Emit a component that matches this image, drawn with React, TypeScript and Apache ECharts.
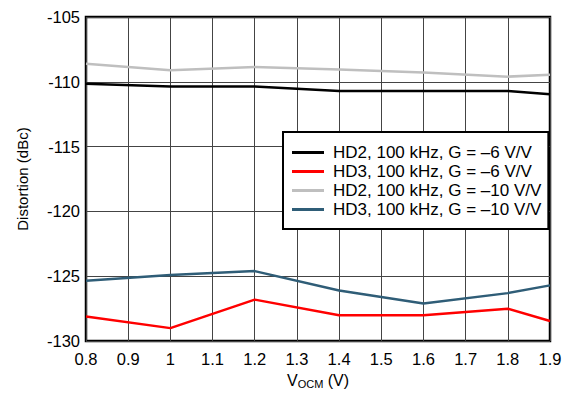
import React, { useEffect, useRef } from "react";
import * as echarts from "echarts";

const xValues = [0.8, 1.0, 1.2, 1.4, 1.6, 1.8, 1.9];
const hd2G6 = [-110.15, -110.37, -110.37, -110.7, -110.7, -110.7, -110.95];
const hd3G6 = [-128.1, -129.0, -126.8, -128.0, -128.0, -127.5, -128.45];
const hd2G10 = [-108.6, -109.1, -108.85, -109.05, -109.28, -109.6, -109.45];
const hd3G10 = [-125.35, -124.9, -124.6, -126.1, -127.1, -126.3, -125.7];

const seriesNames = [
  "HD2, 100 kHz, G = \u20136 V/V",
  "HD3, 100 kHz, G = \u20136 V/V",
  "HD2, 100 kHz, G = \u201310 V/V",
  "HD3, 100 kHz, G = \u201310 V/V",
];
const seriesColors = ["#000000", "#ff0000", "#bfbfbf", "#2f5d77"];
const seriesData = [hd2G6, hd3G6, hd2G10, hd3G10];

const FONT = "Liberation Sans";

export default function App() {
  const ref = useRef<HTMLDivElement>(null);
  useEffect(() => {
    if (!ref.current) return;
    const chart = echarts.init(ref.current, undefined, { renderer: "svg" });
    chart.setOption({
      animation: false,
      backgroundColor: "#ffffff",
      textStyle: { fontFamily: FONT },
      grid: {
        left: 86,
        top: 17,
        right: 19,
        bottom: 48,
        show: true,
        borderColor: "#000",
        borderWidth: 2.5,
        backgroundColor: "transparent",
      },
      legend: {
        left: 283,
        top: 132,
        orient: "vertical",
        icon: "rect",
        itemWidth: 32,
        itemHeight: 3,
        itemGap: 2,
        padding: [12, 7, 11, 9],
        borderColor: "#000",
        borderWidth: 2,
        backgroundColor: "#fff",
        textStyle: {
          fontFamily: FONT,
          fontSize: 17,
          lineHeight: 17,
          color: "#000",
          padding: [0, 0, 0, 4],
        },
        data: seriesNames,
      },
      xAxis: {
        type: "value",
        min: 0.8,
        max: 1.9,
        interval: 0.1,
        name: "{a|V}{b|OCM}{a| (V)}",
        nameLocation: "middle",
        nameGap: 28,
        nameTextStyle: {
          rich: {
            a: { fontFamily: FONT, fontSize: 16, color: "#000" },
            b: { fontFamily: FONT, fontSize: 11, color: "#000", padding: [7, 0, 0, 0] },
          },
        },
        axisLine: { show: false },
        axisTick: { show: false },
        axisLabel: {
          fontFamily: FONT,
          fontSize: 16.5,
          color: "#000",
          margin: 9,
          formatter: (v: number) => String(Math.round(v * 10) / 10),
        },
        splitLine: { show: true, lineStyle: { color: "#444", width: 1 } },
      },
      yAxis: {
        type: "value",
        min: -130,
        max: -105,
        interval: 5,
        name: "Distortion (dBc)",
        nameLocation: "middle",
        nameGap: 56,
        nameTextStyle: { fontFamily: FONT, fontSize: 15, color: "#000" },
        axisLine: { show: false },
        axisTick: { show: false },
        axisLabel: { fontFamily: FONT, fontSize: 16.5, color: "#000", margin: 6 },
        splitLine: { show: true, lineStyle: { color: "#444", width: 1 } },
      },
      series: seriesNames.map((name, i) => ({
        name,
        type: "line",
        symbol: "none",
        color: seriesColors[i],
        lineStyle: { width: 2.5, color: seriesColors[i] },
        data: xValues.map((x, j) => [x, seriesData[i][j]]),
      })),
    });
    return () => chart.dispose();
  }, []);
  return <div ref={ref} style={{ width: 569, height: 394, position: "absolute", left: 0, top: 0 }} />;
}
